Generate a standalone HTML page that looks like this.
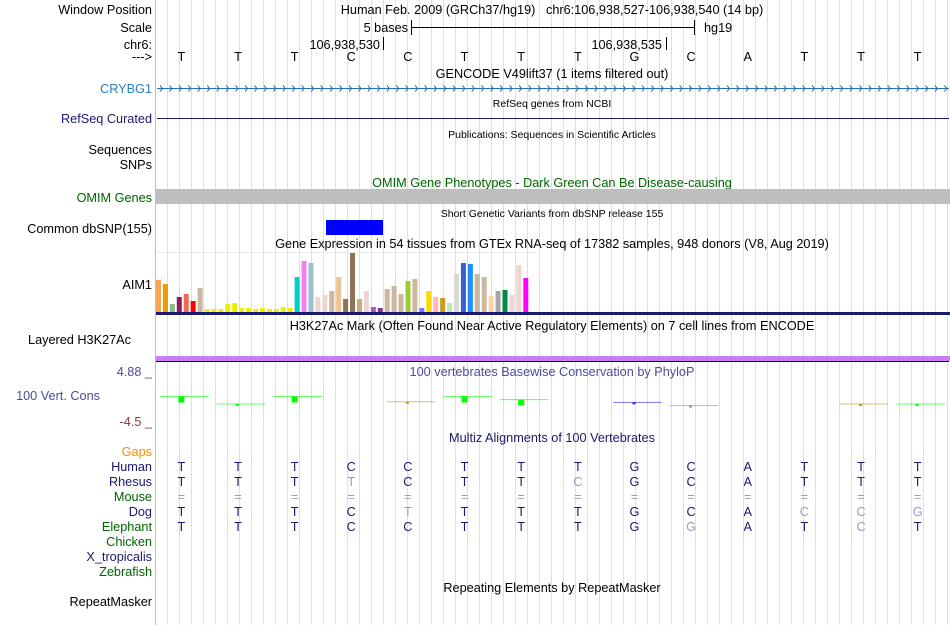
<!DOCTYPE html>
<html><head><meta charset="utf-8"><style>
html,body{margin:0;padding:0;background:#fff;width:950px;height:625px;overflow:hidden}
svg{display:block;font-family:"Liberation Sans",sans-serif}
</style></head><body>
<svg id="s" width="950" height="625" viewBox="0 0 950 625" xmlns="http://www.w3.org/2000/svg">
<g id="grid"></g>
<line x1="155.5" y1="0" x2="155.5" y2="625" stroke="#f4a8a8" stroke-width="1"/>
<g font-size="12.7" text-anchor="end" fill="#000">
<text x="152" y="14">Window Position</text>
<text x="152" y="32">Scale</text>
<text x="152" y="49">chr6:</text>
<text x="152" y="61">---&gt;</text>
<text x="152" y="93" fill="#2a80c0">CRYBG1</text>
<text x="152" y="123" fill="#191970">RefSeq Curated</text>
<text x="152" y="154">Sequences</text>
<text x="152" y="169">SNPs</text>
<text x="152" y="202" fill="#006400">OMIM Genes</text>
<text x="152" y="233">Common dbSNP(155)</text>
<text x="152" y="289">AIM1</text>
<text x="131" y="344">Layered H3K27Ac</text>
<text x="152" y="376" fill="#4b4b9b">4.88 _</text>
<text x="100" y="400" fill="#4b4b9b">100 Vert. Cons</text>
<text x="152" y="426" fill="#8b3a3a">-4.5 _</text>
<text x="152" y="456" fill="#f0900a">Gaps</text>
<text x="152" y="471" fill="#191970">Human</text>
<text x="152" y="486" fill="#191970">Rhesus</text>
<text x="152" y="501" fill="#006400">Mouse</text>
<text x="152" y="516" fill="#191970">Dog</text>
<text x="152" y="531" fill="#006400">Elephant</text>
<text x="152" y="546" fill="#006400">Chicken</text>
<text x="152" y="561" fill="#191970">X_tropicalis</text>
<text x="152" y="576" fill="#006400">Zebrafish</text>
<text x="152" y="606">RepeatMasker</text>
</g>
<g font-size="12.7" text-anchor="middle">
<text x="552" y="14">Human Feb. 2009 (GRCh37/hg19)&#160;&#160;&#160;chr6:106,938,527-106,938,540 (14 bp)</text>
<text x="408" y="32" text-anchor="end">5 bases</text>
<text x="704" y="32" text-anchor="start">hg19</text>
<text x="380" y="49" text-anchor="end">106,938,530</text>
<text x="662" y="49" text-anchor="end">106,938,535</text>
<text x="552" y="78">GENCODE V49lift37 (1 items filtered out)</text>
<text x="552" y="107" font-size="10.5">RefSeq genes from NCBI</text>
<text x="552" y="138" font-size="10.5">Publications: Sequences in Scientific Articles</text>
<text x="552" y="187" fill="#006400">OMIM Gene Phenotypes - Dark Green Can Be Disease-causing</text>
<text x="552" y="217" font-size="10.5">Short Genetic Variants from dbSNP release 155</text>
<text x="552" y="248">Gene Expression in 54 tissues from GTEx RNA-seq of 17382 samples, 948 donors (V8, Aug 2019)</text>
<text x="552" y="330">H3K27Ac Mark (Often Found Near Active Regulatory Elements) on 7 cell lines from ENCODE</text>
<text x="552" y="376" fill="#4b4b9b">100 vertebrates Basewise Conservation by PhyloP</text>
<text x="552" y="442" fill="#191970">Multiz Alignments of 100 Vertebrates</text>
<text x="552" y="592">Repeating Elements by RepeatMasker</text>
</g>
<line x1="411" y1="27.5" x2="694" y2="27.5" stroke="#000"/>
<line x1="411.5" y1="20" x2="411.5" y2="35" stroke="#000"/>
<line x1="694.5" y1="20" x2="694.5" y2="35" stroke="#000"/>
<line x1="383.5" y1="37" x2="383.5" y2="50" stroke="#000"/>
<line x1="666.5" y1="37" x2="666.5" y2="50" stroke="#000"/>
<g id="bases" font-size="12.7" text-anchor="middle"></g>
<line x1="157" y1="88.5" x2="949" y2="88.5" stroke="#2a70b0"/>
<g id="chev" stroke="#2a70b0" fill="none"></g>
<line x1="157" y1="118.5" x2="949" y2="118.5" stroke="#191970"/>
<rect x="156" y="189" width="794" height="15" fill="#bebebe"/>
<rect x="326" y="220" width="57" height="15" fill="#0000ff"/>
<line x1="156" y1="252.5" x2="536" y2="252.5" stroke="#ececec"/>
<g id="gtex"></g>
<rect x="156" y="312" width="794" height="3" fill="#191970"/>
<rect x="156" y="356" width="794" height="5" fill="#c77ef0"/>
<line x1="156" y1="361.5" x2="949" y2="361.5" stroke="#000"/>
<g id="cons"></g>
<g id="multiz" font-size="12.7" text-anchor="middle"></g>
</svg>
<script>
const bases = ["T","T","T","C","C","T","T","T","G","C","A","T","T","T"];
const rhesus = ["T","T","T","t","C","T","T","c","G","C","A","T","T","T"];
const mouse = ["=","=","=","=","=","=","=","=","=","=","=","=","=","="];
const dog = ["T","T","T","C","t","T","T","T","G","C","A","c","c","g"];
const elephant = ["T","T","T","C","C","T","T","T","G","g","A","T","c","T"];
const gtexValues = [32,28,8,15,18,11,24,3,3,3,8,9,4,4,3,4,3,3,5,4,35,51,49,15,17,21,35,13,59,13,21,5,4,23,26,18,31,33,4,21,15,14,9,38,49,48,38,35,16,21,22,17,47,34];
const gtexColors = ["#FFA54F","#EE9A00","#8FBC8F","#8B1C62","#EE6A50","#FF0000","#CDB79E","#EEEE00","#EEEE00","#EEEE00","#EEEE00","#EEEE00","#EEEE00","#EEEE00","#EEEE00","#EEEE00","#EEEE00","#EEEE00","#EEEE00","#EEEE00","#00CED1","#EE82EE","#9AC0CD","#EED5D2","#EED5D2","#CDB79E","#EEC591","#8B7355","#8B7355","#CDAA7D","#EED5D2","#B452CD","#7A378B","#CDB79E","#CDB79E","#CDB79E","#9ACD32","#CDB79E","#7777FF","#FFD700","#FFB6C1","#CD9B1D","#B4EEB4","#D9D9D9","#3A5FCD","#1E90FF","#CDB79E","#CDB79E","#FFD39B","#A6A6A6","#008B45","#EED5D2","#EED5D2","#FF00FF"];
const consValues = [0.1,-1.3,0.1,null,-0.9,0.1,-0.5,null,-1.0,-1.6,null,null,-1.3,-1.3];
const consColors = ["#00ff00","#00ff00","#00ff00",null,"#b0a020","#00ff00","#00ff00",null,"#2020ee","#b0a020",null,null,"#b0a020","#00ff00"];
const consMax = 4.88, consMin = -4.5;

const NS="http://www.w3.org/2000/svg";
function mk(tag, attrs, parent){const e=document.createElementNS(NS,tag);for(const k in attrs)e.setAttribute(k,attrs[k]);parent.appendChild(e);return e;}
const baseW = (949-156)/bases.length;
function bx(i){return 156 + baseW*(i+0.5) - 3;}
const grid=document.getElementById('grid');
for(let x=167;x<=948;x+=12){
  const l=mk('line',{x1:x+0.5,y1:0,x2:x+0.5,y2:625,stroke:'#dcdcf6'},grid);
  
  
}
const bg=document.getElementById('bases');
bases.forEach((b,i)=>{
  const t=mk('text',{x:bx(i),y:61},bg);t.textContent=b;
  
  
});
const ch=document.getElementById('chev');
for(let x=160;x<946;x+=9.45){
  const p=mk('path',{d:`M${x},85.5 L${x+2.5},88.5 L${x},91.5`},ch);
  
  
}
const gt=document.getElementById('gtex');
const gMax=60, gBase=312, gH=60, gStep=6.93;
function gy(v){return gBase - v/gMax*gH;}
gtexValues.forEach((v,i)=>{
  const r=mk('rect',{x:156+gStep*i,y:gy(v),width:5,height:gBase-gy(v),fill:gtexColors[i]},gt);
  
  
});
const cg=document.getElementById('cons');
function cy(v){return 371 + (consMax - v)/(consMax-consMin)*50;}
consValues.forEach((v,i)=>{
  if(v===null)return;
  const c=consColors[i];
  const x0=156+baseW*i+4, x1=156+baseW*(i+1)-4, y=cy(v);
  const l=mk('line',{x1:x0,y1:y,x2:x1,y2:y,stroke:c,'stroke-width':1,opacity:0.6},cg);
  
  
  const s=Math.abs(v)<0.6?6:3;
  const r=mk('rect',{x:bx(i)-3+(s==6?0:1),y:y,width:s,height:s==6?6:2,fill:c},cg);
  
  
});
const mz=document.getElementById('multiz');
[[bases,471],[rhesus,486],[mouse,501],[dog,516],[elephant,531]].forEach(([arr,y])=>{
  arr.forEach((b,i)=>{
    const low = b!==b.toUpperCase() || b==="=";
    const t=mk('text',{x:bx(i),y:y,fill:low?'#9a9ac8':'#191970'},mz);
    t.textContent=b.toUpperCase();
    
    
  });
});
</script>
</body></html>
